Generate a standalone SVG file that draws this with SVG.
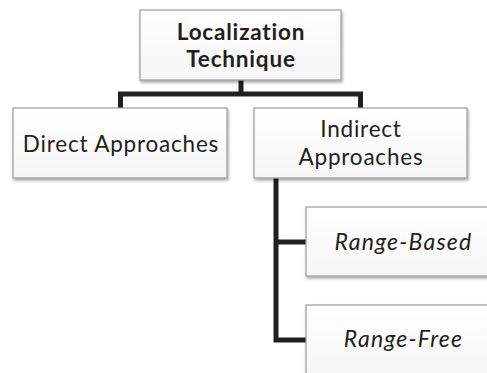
<svg xmlns="http://www.w3.org/2000/svg" width="487" height="373" viewBox="0 0 487 373">
  <style>
    .box { fill: url(#boxfill); stroke: #9c9c9c; stroke-width: 1.2; filter: url(#shadow); }
    .t { font-family: Lato, "Open Sans", sans-serif; font-size: 22.5px; letter-spacing: 0.8px; fill: #231f20; text-anchor: middle; }
    .b { font-weight: bold; }
    .i { font-style: italic; font-size: 23px; letter-spacing: 1.2px; }
    .conn { fill: none; stroke: #231f20; stroke-width: 5; stroke-linejoin: miter; stroke-linecap: butt; }
  </style>
  <defs>
    <linearGradient id="boxfill" x1="0" y1="0" x2="0" y2="1">
      <stop offset="0" stop-color="#ffffff"/>
      <stop offset="1" stop-color="#f5f5f5"/>
    </linearGradient>
    <filter id="shadow" x="-10%" y="-10%" width="130%" height="140%">
      <feDropShadow dx="1" dy="2" stdDeviation="1.5" flood-color="#000" flood-opacity="0.35"/>
    </filter>
  </defs>
  <rect width="487" height="373" fill="#ffffff"/>
  <g id="connectors">
    <path class="conn" d="M241 80 V94"/>
    <path class="conn" d="M120.5 108 V94 H360.5 V108"/>
    <path class="conn" d="M276 178 V340 H306"/>
    <path class="conn" d="M276 242 H306"/>
  </g>
  <g id="node-localization">
    <rect class="box" x="140" y="10" width="201" height="70"/>
    <text class="t b" x="241" y="39.5">Localization</text>
    <text class="t b" x="241" y="66.5">Technique</text>
  </g>
  <g id="node-direct">
    <rect class="box" x="13" y="108" width="214" height="70"/>
    <text class="t" x="121" y="151.5">Direct Approaches</text>
  </g>
  <g id="node-indirect">
    <rect class="box" x="254" y="108" width="213" height="70"/>
    <text class="t" x="361" y="137">Indirect</text>
    <text class="t" x="361" y="164.5">Approaches</text>
  </g>
  <g id="node-range-based">
    <rect class="box" x="306" y="207" width="194" height="69"/>
    <text class="t i" x="403.5" y="249.5">Range-Based</text>
  </g>
  <g id="node-range-free">
    <rect class="box" x="306" y="305" width="194" height="69"/>
    <text class="t i" x="403.5" y="347">Range-Free</text>
  </g>
</svg>
